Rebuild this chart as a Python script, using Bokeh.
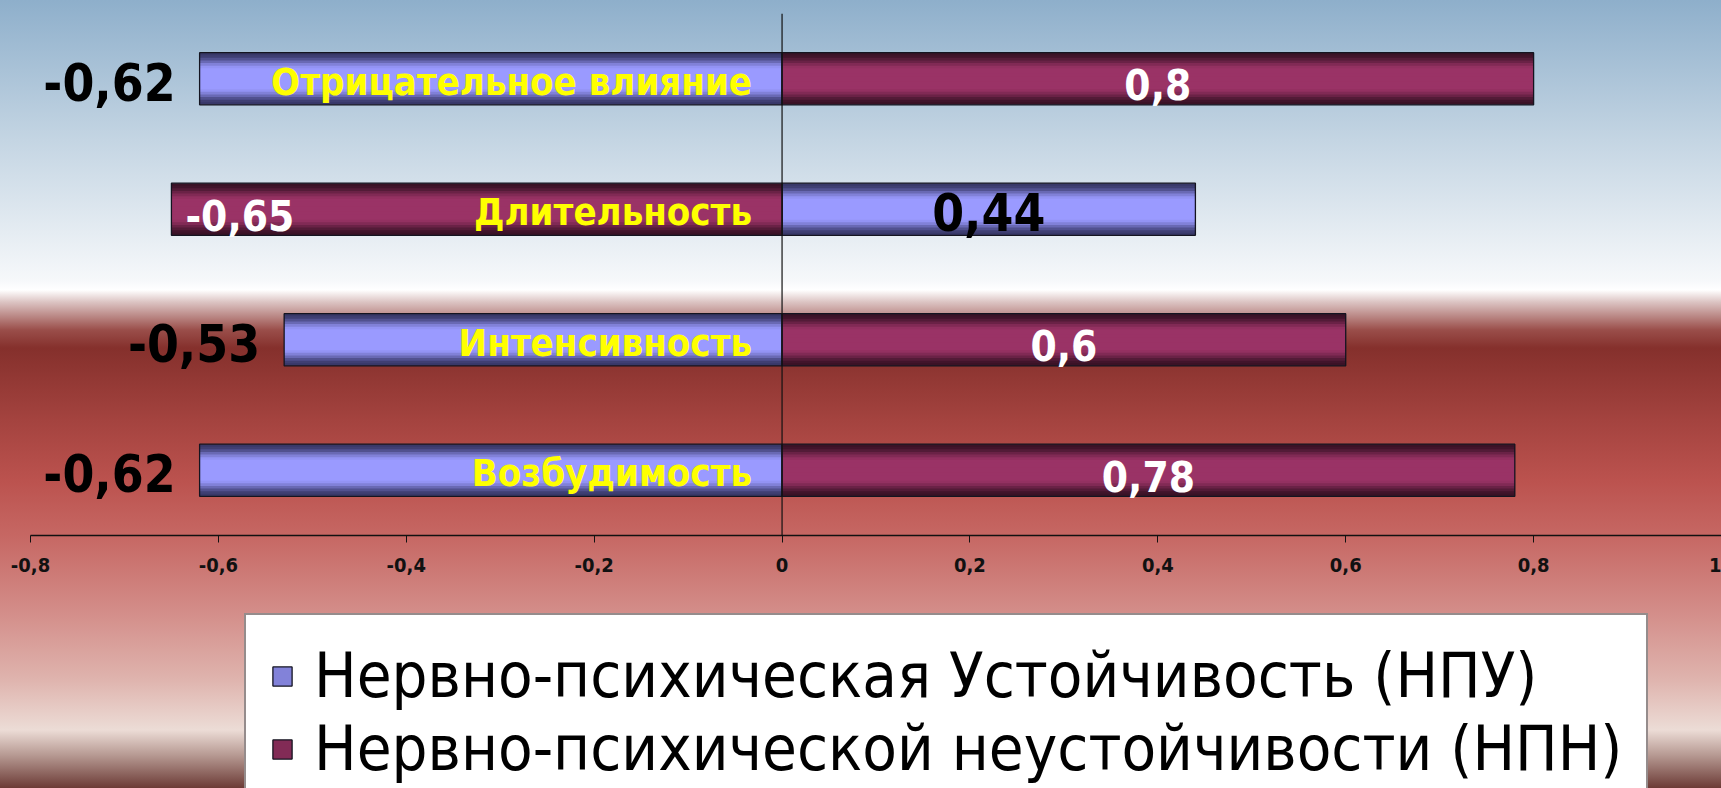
from bokeh.plotting import figure
from bokeh.layouts import column
from bokeh.models import (ColumnDataSource, Range1d, FactorRange, FixedTicker,
                          CustomJSTickFormatter, Span, Legend, LegendItem)
from bokeh.core.properties import value
from bokeh.embed import file_html
from bokeh.resources import INLINE

# ---------------- data ----------------
categories = ["Отрицательное влияние", "Длительность", "Интенсивность", "Возбудимость"]
npu_values = [-0.62, 0.44, -0.53, -0.62]   # Нервно-психическая Устойчивость (НПУ)
npn_values = [0.80, -0.65, 0.60, 0.78]     # Нервно-психической неустойчивости (НПН)
series_names = ["Нервно-психическая Устойчивость (НПУ)",
                "Нервно-психической неустойчивости (НПН)"]
x_ticks = [-0.8, -0.6, -0.4, -0.2, 0.0, 0.2, 0.4, 0.6, 0.8, 1.0]

NARROW = "'Liberation Sans Narrow', 'Arial Narrow', 'DejaVu Sans Condensed', 'Liberation Sans', sans-serif"


def fmt(v):
    return f"{v:g}".replace(".", ",")


def mix(c1, c2, t):
    a = [int(c1[i:i + 2], 16) for i in (1, 3, 5)]
    b = [int(c2[i:i + 2], 16) for i in (1, 3, 5)]
    return "#" + "".join(f"{round(x + (y - x) * t):02x}" for x, y in zip(a, b))


src = ColumnDataSource(dict(cat=categories, npu=npu_values, npn=npn_values))

W = 1721
p = figure(width=W, height=600,
           x_range=Range1d(-0.8, 1.0),
           y_range=FactorRange(factors=list(reversed(categories))),
           output_backend="svg", toolbar_location=None, y_axis_location=None,
           min_border_left=30, min_border_right=0, min_border_top=13,
           min_border_bottom=65)
p.border_fill_alpha = 0
p.background_fill_alpha = 0
p.outline_line_color = None
p.xgrid.visible = False
p.ygrid.visible = False

# ---------------- bars (layered for the shaded look) ----------------
BAR_H = 0.4
N = 10
bar_styles = {
    "npu": ("#383868", "#9a9aff"),
    "npn": ("#3a1226", "#9a3366"),
}
for key in ("npu", "npn"):
    edge, centre = bar_styles[key]
    for k in range(N):
        frac = 1 - k / N
        t = min(1.0, k / (N * 0.6))
        t = t * t * (3 - 2 * t)
        p.hbar(y="cat", left=0, right=key, height=BAR_H * frac, source=src,
               fill_color=mix(edge, centre, t), line_color=None)
    p.hbar(y="cat", left=0, right=key, height=BAR_H, source=src,
           fill_alpha=0, line_color="#141420", line_width=1.3)

p.add_layout(Span(location=0, dimension="height", line_color="#111111", line_width=1.2))

# ---------------- labels ----------------
cat_src = ColumnDataSource(dict(cat=categories, x=[0.0] * len(categories)))
p.text(x="x", y="cat", text="cat", source=cat_src, text_align="right",
       text_baseline="middle", x_offset=-30, y_offset=3,
       text_color="#ffff00", text_font=value(NARROW), text_font_style="bold",
       text_font_size="38px")

npu_lab = dict(x=[], y=[], t=[], align=[], xo=[])
for c, v in zip(categories, npu_values):
    npu_lab["y"].append(c)
    npu_lab["t"].append(fmt(v))
    if v < 0:
        npu_lab["x"].append(v); npu_lab["align"].append("right"); npu_lab["xo"].append(-24)
    else:
        npu_lab["x"].append(v / 2); npu_lab["align"].append("center"); npu_lab["xo"].append(0)
p.text(x="x", y="y", text="t", source=ColumnDataSource(npu_lab), text_align="align",
       x_offset="xo", y_offset=3, text_font_size="51px", text_baseline="middle",
       text_color="#000000", text_font=value(NARROW), text_font_style="bold")

npn_lab = dict(x=[], y=[], t=[], align=[], xo=[])
for c, v in zip(categories, npn_values):
    npn_lab["y"].append(c)
    npn_lab["t"].append(fmt(v))
    if v < 0:
        npn_lab["x"].append(v); npn_lab["align"].append("left"); npn_lab["xo"].append(14)
    else:
        npn_lab["x"].append(v / 2); npn_lab["align"].append("center"); npn_lab["xo"].append(0)
p.text(x="x", y="y", text="t", source=ColumnDataSource(npn_lab), text_align="align",
       x_offset="xo", y_offset=6, text_font_size="42px", text_baseline="middle",
       text_color="#ffffff", text_font=value(NARROW), text_font_style="bold")

# ---------------- axis ----------------
ax = p.xaxis[0]
ax.ticker = FixedTicker(ticks=x_ticks)
ax.formatter = CustomJSTickFormatter(
    code="return (Math.round(tick * 10) / 10).toString().replace('.', ',');")
ax.axis_line_color = "#111111"
ax.axis_line_width = 1.5
ax.major_tick_line_color = "#111111"
ax.major_tick_in = 0
ax.major_tick_out = 7
ax.minor_tick_line_color = None
ax.major_label_standoff = 15
ax.major_label_text_font = NARROW
ax.major_label_text_font_style = "bold"
ax.major_label_text_font_size = "20px"
ax.major_label_text_color = "#111111"

# ---------------- legend (own panel below the chart) ----------------
lg = figure(width=W, height=188, x_range=Range1d(-0.8, 1.0),
            y_range=FactorRange(factors=list(reversed(categories))),
            output_backend="svg", toolbar_location=None,
            x_axis_location=None, y_axis_location=None,
            min_border_left=30, min_border_right=0, min_border_top=0, min_border_bottom=0)
lg.border_fill_alpha = 0
lg.background_fill_alpha = 0
lg.outline_line_color = None
lg.xgrid.visible = False
lg.ygrid.visible = False
leg_r = {}
for key in ("npu", "npn"):
    edge, centre = bar_styles[key]
    r = lg.hbar(y="cat", left=0, right=key, height=BAR_H, source=src,
                fill_color=mix(edge, centre, 0.75), line_color="#141420",
                line_width=1.3)
    r.visible = False   # legend key only; the bars themselves are drawn above
    leg_r[key] = [r]

legend = Legend(
    items=[LegendItem(label=value(series_names[0]), renderers=leg_r["npu"]),
           LegendItem(label=value(series_names[1]), renderers=leg_r["npn"])],
    location=(214, -23), orientation="vertical", margin=0, click_policy="none",
    glyph_width=24, glyph_height=24, label_standoff=20, padding=24, spacing=-19,
    label_height=60, label_text_font=NARROW, label_text_font_size="63px",
    label_text_color="#000000", border_line_color="#2b1a1a", border_line_width=2,
    background_fill_color="#ffffff", background_fill_alpha=1.0,
)
lg.add_layout(legend, "center")

page = column(p, lg, spacing=0)
page.styles = {
    "background": ("linear-gradient(to bottom, #8eafcb 0px, #c4d5e3 140px, "
                   "#f6f8fa 280px, #ffffff 290px, #dcc4c3 302px, #9a4e4a 330px, "
                   "#85302c 348px, #a4433f 420px, #bb524e 480px, #c66763 535px, "
                   "#d38c88 610px, #dfb4ae 680px, #ecdcd6 730px, #b79a93 755px, "
                   "#6c3b36 788px)"),
}

open("out.html", "w").write(file_html(page, INLINE))
